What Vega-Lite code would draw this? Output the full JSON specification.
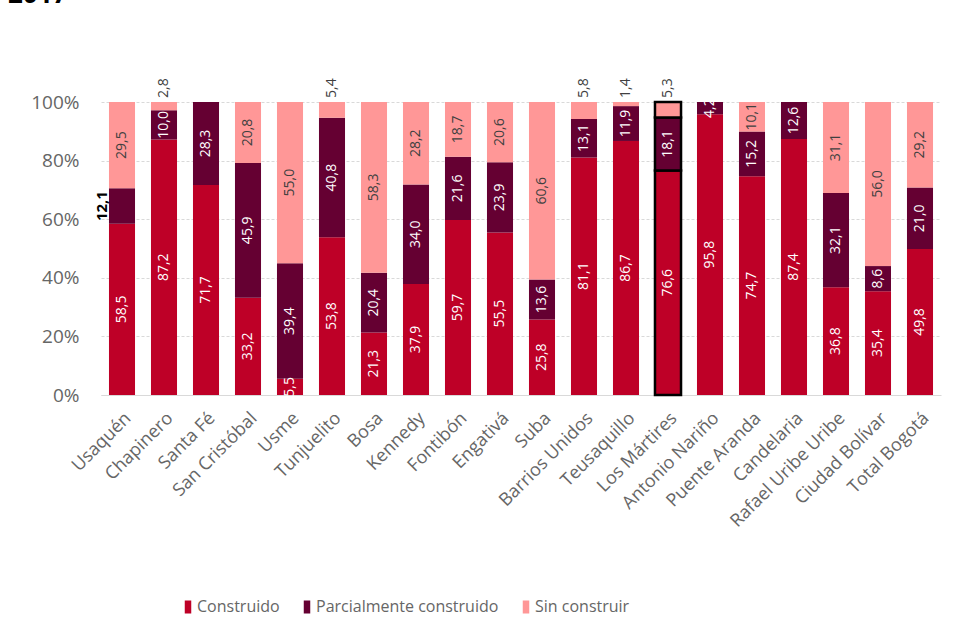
{
  "$schema": "https://vega.github.io/schema/vega-lite/v6.json",
  "width": 840,
  "height": 293,
  "autosize": {"type": "none"},
  "padding": {"left": 101, "top": 102, "right": 19, "bottom": 244},
  "title": {"text": "2017", "anchor": "start", "frame": "group", "fontSize": 26, "fontWeight": "bold", "font": "Open Sans", "color": "#000000", "dx": -93, "offset": 70},
  "config": {"view": {"stroke": null}, "font": "Open Sans"},
  "data": {"values": [
    {"district": "Usaquén", "serie": "Construido", "order": 1, "pct": 58.5},
    {"district": "Usaquén", "serie": "Parcialmente construido", "order": 2, "pct": 12.1},
    {"district": "Usaquén", "serie": "Sin construir", "order": 3, "pct": 29.5},
    {"district": "Chapinero", "serie": "Construido", "order": 1, "pct": 87.2},
    {"district": "Chapinero", "serie": "Parcialmente construido", "order": 2, "pct": 10.0},
    {"district": "Chapinero", "serie": "Sin construir", "order": 3, "pct": 2.8},
    {"district": "Santa Fé", "serie": "Construido", "order": 1, "pct": 71.7},
    {"district": "Santa Fé", "serie": "Parcialmente construido", "order": 2, "pct": 28.3},
    {"district": "San Cristóbal", "serie": "Construido", "order": 1, "pct": 33.2},
    {"district": "San Cristóbal", "serie": "Parcialmente construido", "order": 2, "pct": 45.9},
    {"district": "San Cristóbal", "serie": "Sin construir", "order": 3, "pct": 20.8},
    {"district": "Usme", "serie": "Construido", "order": 1, "pct": 5.5},
    {"district": "Usme", "serie": "Parcialmente construido", "order": 2, "pct": 39.4},
    {"district": "Usme", "serie": "Sin construir", "order": 3, "pct": 55.0},
    {"district": "Tunjuelito", "serie": "Construido", "order": 1, "pct": 53.8},
    {"district": "Tunjuelito", "serie": "Parcialmente construido", "order": 2, "pct": 40.8},
    {"district": "Tunjuelito", "serie": "Sin construir", "order": 3, "pct": 5.4},
    {"district": "Bosa", "serie": "Construido", "order": 1, "pct": 21.3},
    {"district": "Bosa", "serie": "Parcialmente construido", "order": 2, "pct": 20.4},
    {"district": "Bosa", "serie": "Sin construir", "order": 3, "pct": 58.3},
    {"district": "Kennedy", "serie": "Construido", "order": 1, "pct": 37.9},
    {"district": "Kennedy", "serie": "Parcialmente construido", "order": 2, "pct": 34.0},
    {"district": "Kennedy", "serie": "Sin construir", "order": 3, "pct": 28.2},
    {"district": "Fontibón", "serie": "Construido", "order": 1, "pct": 59.7},
    {"district": "Fontibón", "serie": "Parcialmente construido", "order": 2, "pct": 21.6},
    {"district": "Fontibón", "serie": "Sin construir", "order": 3, "pct": 18.7},
    {"district": "Engativá", "serie": "Construido", "order": 1, "pct": 55.5},
    {"district": "Engativá", "serie": "Parcialmente construido", "order": 2, "pct": 23.9},
    {"district": "Engativá", "serie": "Sin construir", "order": 3, "pct": 20.6},
    {"district": "Suba", "serie": "Construido", "order": 1, "pct": 25.8},
    {"district": "Suba", "serie": "Parcialmente construido", "order": 2, "pct": 13.6},
    {"district": "Suba", "serie": "Sin construir", "order": 3, "pct": 60.6},
    {"district": "Barrios Unidos", "serie": "Construido", "order": 1, "pct": 81.1},
    {"district": "Barrios Unidos", "serie": "Parcialmente construido", "order": 2, "pct": 13.1},
    {"district": "Barrios Unidos", "serie": "Sin construir", "order": 3, "pct": 5.8},
    {"district": "Teusaquillo", "serie": "Construido", "order": 1, "pct": 86.7},
    {"district": "Teusaquillo", "serie": "Parcialmente construido", "order": 2, "pct": 11.9},
    {"district": "Teusaquillo", "serie": "Sin construir", "order": 3, "pct": 1.4},
    {"district": "Los Mártires", "serie": "Construido", "order": 1, "pct": 76.6},
    {"district": "Los Mártires", "serie": "Parcialmente construido", "order": 2, "pct": 18.1},
    {"district": "Los Mártires", "serie": "Sin construir", "order": 3, "pct": 5.3},
    {"district": "Antonio Nariño", "serie": "Construido", "order": 1, "pct": 95.8},
    {"district": "Antonio Nariño", "serie": "Parcialmente construido", "order": 2, "pct": 4.2},
    {"district": "Puente Aranda", "serie": "Construido", "order": 1, "pct": 74.7},
    {"district": "Puente Aranda", "serie": "Parcialmente construido", "order": 2, "pct": 15.2},
    {"district": "Puente Aranda", "serie": "Sin construir", "order": 3, "pct": 10.1},
    {"district": "Candelaria", "serie": "Construido", "order": 1, "pct": 87.4},
    {"district": "Candelaria", "serie": "Parcialmente construido", "order": 2, "pct": 12.6},
    {"district": "Rafael Uribe Uribe", "serie": "Construido", "order": 1, "pct": 36.8},
    {"district": "Rafael Uribe Uribe", "serie": "Parcialmente construido", "order": 2, "pct": 32.1},
    {"district": "Rafael Uribe Uribe", "serie": "Sin construir", "order": 3, "pct": 31.1},
    {"district": "Ciudad Bolívar", "serie": "Construido", "order": 1, "pct": 35.4},
    {"district": "Ciudad Bolívar", "serie": "Parcialmente construido", "order": 2, "pct": 8.6},
    {"district": "Ciudad Bolívar", "serie": "Sin construir", "order": 3, "pct": 56.0},
    {"district": "Total Bogotá", "serie": "Construido", "order": 1, "pct": 49.8},
    {"district": "Total Bogotá", "serie": "Parcialmente construido", "order": 2, "pct": 21.0},
    {"district": "Total Bogotá", "serie": "Sin construir", "order": 3, "pct": 29.2}
  ]},
  "transform": [
    {"stack": "pct", "groupby": ["district"], "sort": [{"field": "order"}], "offset": "normalize", "as": ["y0", "y1"]},
    {"calculate": "(datum.y0 + datum.y1) / 2", "as": "ymid"},
    {"calculate": "replace(format(datum.pct, '.1f'), '.', ',')", "as": "label"}
  ],
  "encoding": {
    "x": {
      "field": "district", "type": "nominal", "sort": null,
      "scale": {"paddingInner": 0.38, "paddingOuter": 0.19},
      "axis": {"title": null, "labelAngle": -45, "labelFontSize": 18, "labelColor": "#666666", "ticks": false, "domainColor": "#D9D9D9", "labelPadding": 14, "labelLimit": 300}
    }
  },
  "layer": [
    {
      "mark": {"type": "bar"},
      "encoding": {
        "y": {
          "field": "y0", "type": "quantitative",
          "scale": {"domain": [0, 1], "nice": false},
          "axis": {"title": null, "values": [0, 0.1, 0.2, 0.3, 0.4, 0.5, 0.6, 0.7, 0.8, 0.9, 1], "format": ".0%", "labelFontSize": 19, "labelColor": "#666666", "labelPadding": 22, "labelOverlap": false, "domain": false, "ticks": false, "gridColor": "#D9D9D9", "gridDash": [3, 2]}
        },
        "y2": {"field": "y1"},
        "color": {
          "field": "serie", "type": "nominal",
          "scale": {"domain": ["Construido", "Parcialmente construido", "Sin construir"], "range": ["#BE0027", "#650032", "#FF9797"]},
          "legend": {"title": null, "orient": "none", "direction": "horizontal", "legendX": 79, "legendY": 497, "labelFontSize": 16, "labelLimit": 300, "labelColor": "#666666", "symbolType": "M-0.5,-1H0.5V1H-0.5Z", "symbolSize": 169, "symbolStrokeWidth": 0, "columnPadding": 19, "labelOffset": 1}
        },
        "stroke": {"condition": {"test": "datum.district == 'Los Mártires'", "value": "#000000"}, "value": null},
        "strokeWidth": {"value": 2.5}
      }
    },
    {
      "transform": [{"filter": "!(datum.serie == 'Sin construir' && datum.pct < 6) && !(datum.district == 'Usaquén' && datum.serie == 'Parcialmente construido')"}],
      "mark": {"type": "text", "angle": 270, "align": "center", "baseline": "middle", "fontSize": 14},
      "encoding": {
        "y": {"field": "ymid", "type": "quantitative"},
        "text": {"field": "label"},
        "color": {"condition": {"test": "datum.serie == 'Sin construir'", "value": "#404040"}, "value": "#FFFFFF"}
      }
    },
    {
      "transform": [{"filter": "datum.serie == 'Sin construir' && datum.pct < 6"}],
      "mark": {"type": "text", "angle": 270, "align": "left", "baseline": "middle", "fontSize": 14, "dx": 4, "color": "#404040"},
      "encoding": {
        "y": {"datum": 1, "type": "quantitative"},
        "text": {"field": "label"}
      }
    },
    {
      "transform": [{"filter": "datum.district == 'Usaquén' && datum.serie == 'Parcialmente construido'"}],
      "mark": {"type": "text", "angle": 270, "align": "center", "baseline": "middle", "fontSize": 15, "fontWeight": "bold", "color": "#000000", "xOffset": -20},
      "encoding": {
        "y": {"field": "ymid", "type": "quantitative"},
        "text": {"field": "label"}
      }
    }
  ]
}
